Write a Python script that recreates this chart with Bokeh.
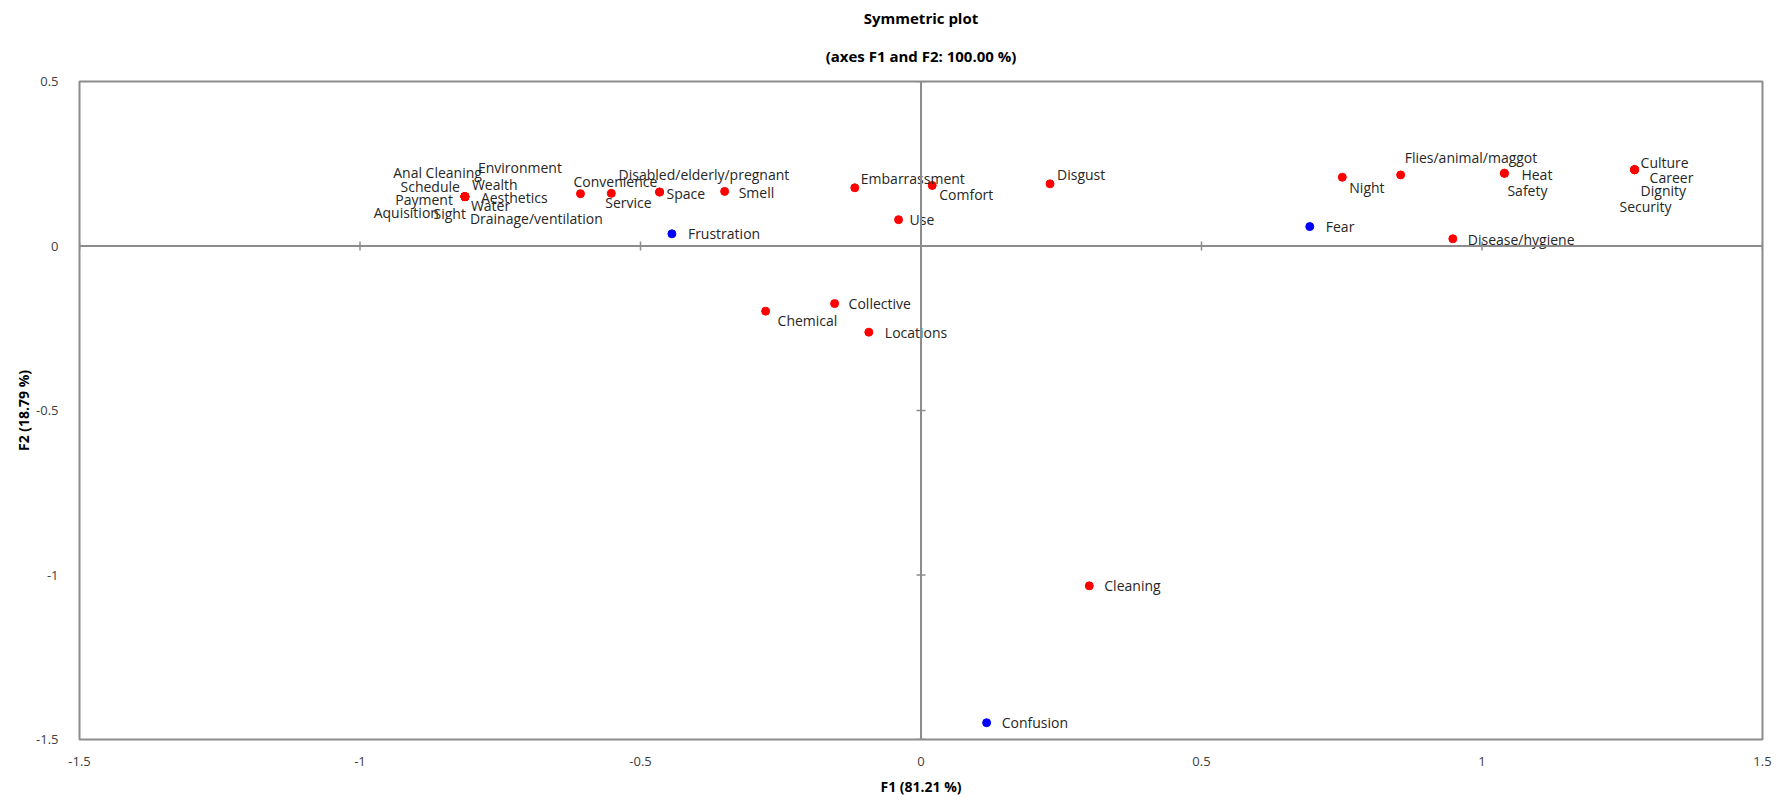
from bokeh.plotting import figure
from bokeh.models import ColumnDataSource, Span, FixedTicker, Range1d, Title
from bokeh.core.properties import value
from bokeh.embed import file_html
from bokeh.resources import INLINE
import math

# ---- data ----
labels = ["Anal Cleaning", "Environment", "Schedule", "Wealth", "Payment", "Aesthetics",
          "Aquisition", "Sight", "Water", "Drainage/ventilation",
          "Convenience", "Service", "Disabled/elderly/pregnant", "Space", "Smell",
          "Frustration", "Embarrassment", "Comfort", "Use", "Collective", "Chemical",
          "Locations", "Disgust", "Night", "Flies/animal/maggot", "Fear", "Heat", "Safety",
          "Culture", "Career", "Dignity", "Security", "Disease/hygiene", "Cleaning", "Confusion"]
f1 = [-0.813, -0.813, -0.813, -0.813, -0.813, -0.813,
      -0.813, -0.813, -0.813, -0.813,
      -0.607, -0.552, -0.466, -0.466, -0.350,
      -0.444, -0.118, 0.020, -0.040, -0.154, -0.277,
      -0.093, 0.230, 0.751, 0.855, 0.693, 1.040, 1.040,
      1.272, 1.272, 1.272, 1.272, 0.948, 0.300, 0.117]
f2 = [0.150, 0.150, 0.150, 0.150, 0.150, 0.150,
      0.150, 0.150, 0.150, 0.150,
      0.159, 0.160, 0.164, 0.164, 0.166,
      0.037, 0.177, 0.184, 0.080, -0.175, -0.198,
      -0.262, 0.189, 0.209, 0.216, 0.059, 0.221, 0.221,
      0.232, 0.232, 0.232, 0.232, 0.022, -1.033, -1.449]
group = ["col"] * 15 + ["row"] + ["col"] * 9 + ["row"] + ["col"] * 8 + ["row"]

x_ticks = [-1.5, -1, -0.5, 0, 0.5, 1, 1.5]
x_tick_labels = ["-1.5", "-1", "-0.5", "0", "0.5", "1", "1.5"]
y_ticks = [-1.5, -1, -0.5, 0, 0.5]
y_tick_labels = ["-1.5", "-1", "-0.5", "0", "0.5"]

title_lines = ["Symmetric plot", "(axes F1 and F2: 100.00 %)"]

# ---- label placement (screen pixel offsets, style only) ----
label_align = ["right", "left", "right", "left", "right", "left",
               "right", "right", "left", "left",
               "left", "left", "left", "left", "left",
               "left", "left", "left", "left", "left", "left",
               "left", "left", "left", "left", "left", "left", "left",
               "left", "left", "left", "right", "left", "left", "left"]
label_dx = [17, 13, -5, 7, -12, 16,
            -26, 1, 6, 5,
            -7, -6, -41, 7, 14,
            16, 6, 7, 11, 14, 12,
            16, 7, 7, 4, 16, 17, 3,
            6, 15, 6, 37, 15, 15, 15]
label_dy = [-24, -29, -10, -12, 3, 1,
            16, 17, 9, 22,
            -12, 9, -18, 1, 1,
            0, -9, 9, 0, 0, 9,
            0, -9, 10, -17, 0, 1, 17,
            -7, 8, 21, 37, 1, 0, 0]

colors = {"col": "#FF0000", "row": "#0000FF"}
FONT = "Open Sans"
GRAY = "#8c8c8c"

p = figure(width=1787, height=800, x_range=Range1d(-1.5, 1.5), y_range=Range1d(-1.5, 0.5),
           output_backend="svg", toolbar_location=None, title=None,
           min_border_left=79, min_border_right=25, min_border_top=81, min_border_bottom=61)

xax = p.below[0]
yax = p.left[0]

# two centred title lines (second line closest to the frame)
for txt, stand in ((title_lines[1], 32), (title_lines[0], 0)):
    p.add_layout(Title(text=txt, align="center", offset=-24, standoff=stand,
                       text_font=FONT, text_font_size="15px", text_font_style="bold",
                       text_color="#000000"), "above")

p.grid.visible = False
p.outline_line_color = GRAY
p.outline_line_width = 2
p.background_fill_color = "white"
p.border_fill_color = "white"

for ax in (xax, yax):
    ax.major_tick_line_color = None
    ax.minor_tick_line_color = None
    ax.axis_line_color = None
    ax.major_label_text_font = FONT
    ax.major_label_text_font_size = "13px"
    ax.major_label_text_color = "#404040"
    ax.axis_label_text_font = FONT
    ax.axis_label_text_font_size = "14px"
    ax.axis_label_text_font_style = "bold"
    ax.axis_label_text_color = "#000000"

xax.ticker = FixedTicker(ticks=x_ticks)
xax.major_label_overrides = dict(zip(x_ticks, x_tick_labels))
xax.axis_label = "F1 (81.21 %)"
xax.major_label_standoff = 11
xax.axis_label_standoff = 8

yax.ticker = FixedTicker(ticks=y_ticks)
yax.major_label_overrides = dict(zip(y_ticks, y_tick_labels))
yax.axis_label = "F2 (18.79 %)"
yax.major_label_standoff = 15
yax.axis_label_standoff = 0

# zero lines with cross tick marks
p.add_layout(Span(location=0, dimension="width", line_color=GRAY, line_width=2))
p.add_layout(Span(location=0, dimension="height", line_color=GRAY, line_width=2))
hx = [t for t in x_ticks if t != 0]
hy = [t for t in y_ticks if t != 0]
p.scatter(x=hx, y=[0] * len(hx), marker="dash", angle=math.pi / 2, size=9,
          line_color=GRAY, line_width=1.5)
p.scatter(x=[0] * len(hy), y=hy, marker="dash", size=9, line_color=GRAY, line_width=1.5)

# points
src = ColumnDataSource(dict(x=f1, y=f2, label=labels, color=[colors[g] for g in group]))
p.scatter(x="x", y="y", color="color", size=8, source=src)

for al in ("left", "right"):
    idx = [i for i, a in enumerate(label_align) if a == al]
    s = ColumnDataSource(dict(x=[f1[i] for i in idx], y=[f2[i] for i in idx],
                              label=[labels[i] for i in idx],
                              dx=[label_dx[i] for i in idx], dy=[label_dy[i] for i in idx]))
    p.text(x="x", y="y", text="label", x_offset="dx", y_offset="dy", source=s,
           text_align=al, text_baseline="middle", text_font=value(FONT),
           text_font_size="14px", text_color="#262626")

open("out.html", "w").write(file_html(p, INLINE))
